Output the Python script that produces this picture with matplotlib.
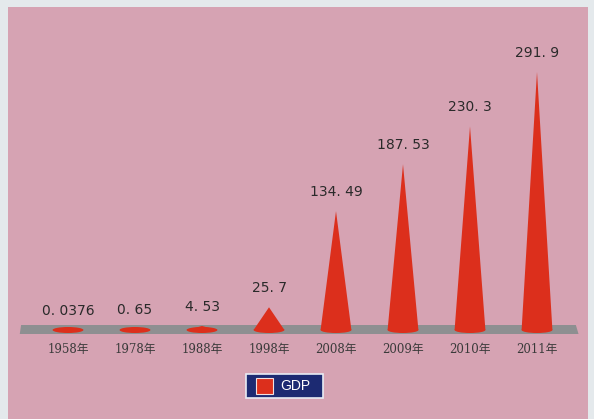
import matplotlib
matplotlib.use("Agg")
import matplotlib.pyplot as plt
from matplotlib.patches import Polygon, Ellipse, Rectangle

years = ["1958年", "1978年", "1988年", "1998年", "2008年", "2009年", "2010年", "2011年"]
gdp = [0.0376, 0.65, 4.53, 25.7, 134.49, 187.53, 230.3, 291.9]
labels = ["0. 0376", "0. 65", "4. 53", "25. 7", "134. 49", "187. 53", "230. 3", "291. 9"]
series_name = "GDP"

W, H = 594, 419
fig = plt.figure(figsize=(W / 100, H / 100), dpi=100)
fig.patch.set_facecolor("#e4e9ec")
# pink panel
fig.patches.append(Rectangle((8 / W, 0), (W - 14) / W, (H - 7) / H, transform=fig.transFigure,
                             facecolor="#d6a3b3", edgecolor="none", zorder=-5))

ax = fig.add_axes([0, 0, 1, 1])
ax.set_zorder(2)
ax.set_facecolor("none")
px_x = 67.0
px_y = 258 / 291.9
ax.set_xlim(-68 / px_x, 7 + 57 / px_x)
ax.set_ylim(-89 / px_y, 330 / px_y)
ax.axis("off")

xs = list(range(len(years)))
red = "#dc2f1c"
w = 0.46
eh = 6 / px_y

# grey baseline band
ax.add_patch(Polygon([(-0.72, -4 / px_y), (7.62, -4 / px_y), (7.58, 5 / px_y), (-0.70, 5 / px_y)],
                     closed=True, facecolor="#8e8f91", edgecolor="none", zorder=1))

for x, v, lab, yr in zip(xs, gdp, labels, years):
    ax.add_patch(Polygon([(x - w / 2, 0), (x, v), (x + w / 2, 0)], closed=True,
                         facecolor=red, edgecolor="none", zorder=2))
    ax.add_patch(Ellipse((x, 0), w, eh, facecolor=red, edgecolor="none", zorder=2))
    ax.text(x, v + 12 / px_y, lab, ha="center", va="bottom", fontsize=10,
            color="#2a2a2a", family=["DejaVu Sans"], zorder=3)
    ax.text(x, -20 / px_y, yr, ha="center", va="center", fontsize=8.5,
            color="#3a3a3a", family=["DejaVu Serif", "Noto Sans CJK SC"], zorder=3)

# legend box
fig.patches.append(Rectangle((246 / W, 1 - 398 / H), 77 / W, 24 / H, transform=fig.transFigure,
                             facecolor="#1c2a72", edgecolor="#e8ecf4", linewidth=1.2, zorder=5))
fig.patches.append(Rectangle((256 / W, 1 - 394 / H), 17 / W, 16 / H, transform=fig.transFigure,
                             facecolor="#dc2f1c", edgecolor="#f0e0e0", linewidth=0.8, zorder=6))
fig.text(280 / W, 1 - 386 / H, series_name, ha="left", va="center", fontsize=10,
         color="white", family=["Liberation Sans"], zorder=7)

fig.savefig("out.png", dpi=100, facecolor=fig.get_facecolor())
